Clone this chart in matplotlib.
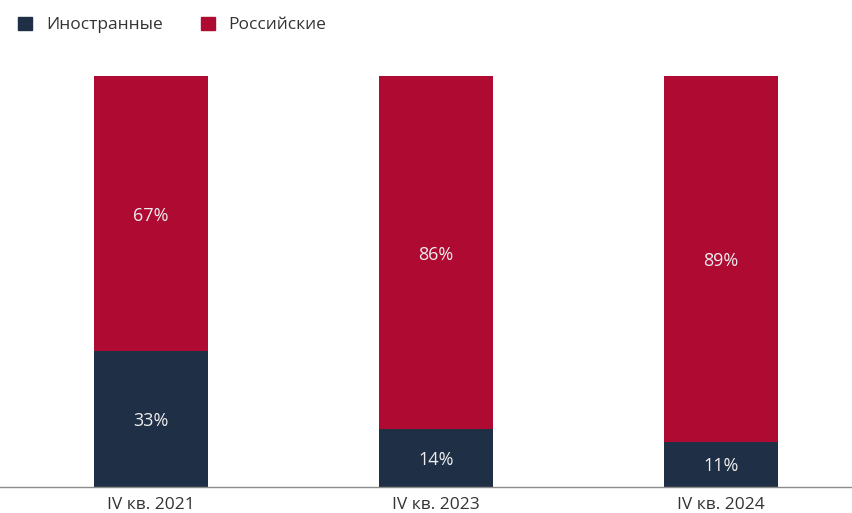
import matplotlib.pyplot as plt
from matplotlib.patches import Patch

plt.rcParams['font.family'] = ['Open Sans', 'DejaVu Sans']

categories = ['IV кв. 2021', 'IV кв. 2023', 'IV кв. 2024']
foreign = [33, 14, 11]
russian = [67, 86, 89]
series_names = ['Иностранные', 'Российские']

navy = '#1f2f46'
crimson = '#ae0a32'

fig = plt.figure(figsize=(8.53, 5.13), dpi=100)
ax = fig.add_axes([0.0, 0.0507, 1.0, 0.8013])

x = range(len(categories))
ax.bar(x, foreign, width=0.4, color=navy)
ax.bar(x, russian, width=0.4, bottom=foreign, color=crimson)

for i in x:
    ax.text(i, foreign[i] / 2, f'{foreign[i]}%', ha='center', va='center_baseline',
            color='#eeeeee', fontsize=13)
    ax.text(i, foreign[i] + russian[i] / 2, f'{russian[i]}%', ha='center',
            va='center_baseline', color='#eeeeee', fontsize=13)

ax.set_xlim(-0.53, 2.463)
ax.set_ylim(0, 100)
ax.set_xticks(list(x))
ax.set_xticklabels(categories, fontsize=12.5, color='#333333')
ax.tick_params(axis='x', length=0, pad=7)
ax.set_yticks([])
for side in ['top', 'right', 'left']:
    ax.spines[side].set_visible(False)
ax.spines['bottom'].set_color('#8c8c8c')
ax.spines['bottom'].set_linewidth(1)

handles = [Patch(color=navy), Patch(color=crimson)]
fig.legend(handles, series_names, loc='upper left', bbox_to_anchor=(0.003, 0.998),
           ncol=2, frameon=False, fontsize=12.5, handlelength=0.8, handleheight=0.8,
           handletextpad=0.8, columnspacing=2.2, labelcolor='#333333')

fig.savefig('out.png', dpi=100)
